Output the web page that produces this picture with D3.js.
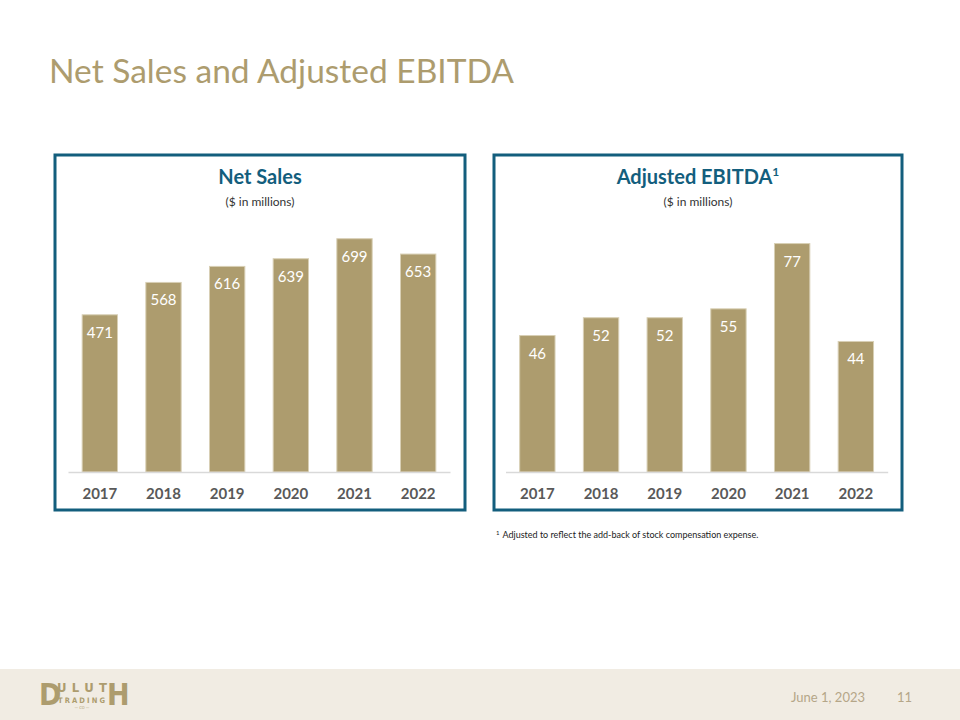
<!DOCTYPE html>
<html>
<head>
<meta charset="utf-8">
<script src="https://cdn.jsdelivr.net/npm/d3@7"></script>
<style>
  body { margin: 0; background: #fff; }
  svg { display: block; font-family: Lato, "Source Sans Pro", sans-serif; }
</style>
</head>
<body>
<div id="chart"></div>
<script>
// data
var years = ["2017", "2018", "2019", "2020", "2021", "2022"];
var netSales = [471, 568, 616, 639, 699, 653];
var adjEbitda = [46, 52, 52, 55, 77, 44];

var gold = "#ad9c6e";
var teal = "#135e7d";

var svg = d3.select("#chart")
    .append("svg")
    .attr("width", 960)
    .attr("height", 720);

// slide title
svg.append("text")
    .attr("x", 49)
    .attr("y", 83)
    .text("Net Sales and Adjusted EBITDA")
    .style("font-size", "33.5px")
    .style("fill", gold);

// one boxed bar panel
function drawPanel(opts) {
    var box = svg.append("g");

    box.append("rect")
        .attr("x", opts.left)
        .attr("y", 155)
        .attr("width", opts.boxWidth)
        .attr("height", 355)
        .attr("fill", "none")
        .attr("stroke", teal)
        .attr("stroke-width", 3);

    var cx = opts.left + opts.boxWidth / 2;

    var head = box.append("text")
        .attr("x", cx)
        .attr("y", 184)
        .attr("text-anchor", "middle")
        .style("font-size", "20px")
        .style("font-weight", "bold")
        .style("fill", teal)
        .text(opts.title);
    if (opts.sup) {
        head.append("tspan")
            .attr("dy", -8)
            .style("font-size", "12px")
            .text(opts.sup);
    }

    box.append("text")
        .attr("x", cx)
        .attr("y", 206)
        .attr("text-anchor", "middle")
        .style("font-size", "12px")
        .style("fill", "#333")
        .text("($ in millions)");

    var x = d3.scaleBand()
        .domain(years)
        .range(opts.xRange)
        .paddingInner(0.445)
        .paddingOuter(0.2225);

    var y = d3.scaleLinear()
        .domain([0, opts.max])
        .range([472, 205]);

    var g = box.append("g");

    g.selectAll(".bar")
        .data(opts.values)
        .enter().append("rect")
        .attr("class", "bar")
        .attr("x", function(d, i) { return x(years[i]); })
        .attr("y", function(d) { return y(d); })
        .attr("width", x.bandwidth())
        .attr("height", function(d) { return y(0) - y(d); })
        .attr("fill", gold)
        .attr("stroke", "#d8cfb5")
        .attr("stroke-width", 1);

    g.selectAll(".val")
        .data(opts.values)
        .enter().append("text")
        .attr("class", "val")
        .attr("x", function(d, i) { return x(years[i]) + x.bandwidth() / 2; })
        .attr("y", function(d) { return y(d) + 23; })
        .attr("text-anchor", "middle")
        .style("font-size", "15px")
        .style("fill", "#fff")
        .text(function(d) { return d; });

    // axis along the bottom
    var axis = g.append("g")
        .attr("transform", "translate(0,472)")
        .call(d3.axisBottom(x).tickSize(0).tickPadding(16));
    axis.select(".domain").attr("stroke", "#d9d9d9").attr("stroke-width", 1.5);
    axis.selectAll("text")
        .style("font-family", "Lato, sans-serif")
        .style("font-size", "15px")
        .style("font-weight", "bold")
        .style("fill", "#595959");
}

drawPanel({ left: 55, boxWidth: 410, title: "Net Sales", values: netSales, max: 800, xRange: [68, 450] });
drawPanel({ left: 494, boxWidth: 408, title: "Adjusted EBITDA", sup: "1", values: adjEbitda, max: 90, xRange: [505.5, 887.7] });

// footnote
var note = svg.append("text")
    .attr("x", 496)
    .attr("y", 538)
    .style("font-size", "9px")
    .style("fill", "#222");
note.append("tspan").attr("dy", -3).style("font-size", "6px").text("1");
note.append("tspan").attr("dy", 3).attr("dx", 3).text("Adjusted to reflect the add-back of stock compensation expense.");

// footer band
svg.append("rect")
    .attr("x", 0)
    .attr("y", 669)
    .attr("width", 960)
    .attr("height", 51)
    .attr("fill", "#f1ece3");

// logo, built from text pieces
var logo = svg.append("g")
    .style("fill", gold)
    .style("font-family", "'DejaVu Sans Condensed', 'DejaVu Sans', sans-serif")
    .style("font-weight", "bold");
logo.append("text").attr("x", 39).attr("y", 705).style("font-size", "30px").text("D");
logo.append("text").attr("x", 57).attr("y", 692)
    .attr("textLength", 50).attr("lengthAdjust", "spacing")
    .style("font-size", "13px").text("ULUT");
logo.append("text").attr("x", 107).attr("y", 705).style("font-size", "30px").text("H");
logo.append("text").attr("x", 58).attr("y", 703)
    .attr("textLength", 47).attr("lengthAdjust", "spacing")
    .style("font-size", "7.5px").text("TRADING");
logo.append("text").attr("x", 82).attr("y", 708.5).attr("text-anchor", "middle")
    .style("font-size", "4px").style("font-weight", "normal").text("— CO —");

svg.append("text")
    .attr("x", 865)
    .attr("y", 702)
    .attr("text-anchor", "end")
    .style("font-size", "13px")
    .style("fill", "#b5a688")
    .text("June 1, 2023");
svg.append("text")
    .attr("x", 912)
    .attr("y", 702)
    .attr("text-anchor", "end")
    .style("font-size", "13px")
    .style("fill", "#b5a688")
    .text("11");
</script>
</body>
</html>
